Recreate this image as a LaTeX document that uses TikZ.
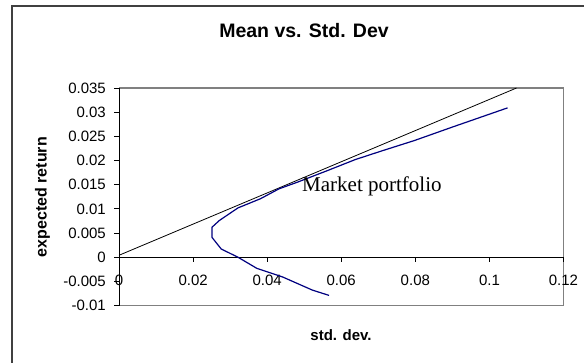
\documentclass[tikz,border=0pt]{standalone}
\usepackage{fontspec}
\setmainfont{Liberation Sans}
\newfontfamily\labelserif{Liberation Serif}
\usetikzlibrary{positioning}

\begin{document}
\begin{tikzpicture}[
  x=1pt, y=1pt,
  frame/.style={draw=black!75, line width=1.6pt},
  plotborder/.style={draw=black!50, line width=1.2pt},
  axis/.style={draw=black, line width=0.9pt},
  ticklab/.style={font=\fontsize{15}{15}\selectfont, inner sep=0pt},
  axtitle/.style={font=\fontsize{15}{15}\selectfont\bfseries, inner sep=0pt},
  cml/.style={draw=black, line width=0.8pt},
  frontier/.style={draw=blue!50!black, line width=1.2pt, line join=round}
]
\useasboundingbox (0,0) rectangle (584,362);
\fill[white] (0,0) rectangle (584,362);
\begin{scope}
\clip (0,0) rectangle (584,362);
\draw[frame] (11.7,-20) rectangle (620,355.7);
\end{scope}

\node[font=\fontsize{19.5}{20}\selectfont\bfseries, anchor=base, inner sep=0pt] (title) at (304,324) {Mean vs. Std. Dev};
\node[axtitle, font=\fontsize{16}{16}\selectfont\bfseries, rotate=90] (ylab) at (42.5,165) {expected return};
\node[axtitle, anchor=base] (xlab) at (341,22) {std. dev.};

% plot area, data coordinates
\begin{scope}[shift={(119,104.8)}, x=3704.2pt, y=4833pt]
\draw[plotborder] (0,0.035) -- (0.12,0.035) -- (0.12,-0.01) -- (0,-0.01);
\draw[axis] (0,-0.01) -- (0,0.035);
\draw[axis] (0,0) -- (0.12,0);
\foreach \v [count=\i] in {-0.01,-0.005,0,0.005,0.01,0.015,0.02,0.025,0.03,0.035} {
  \draw[axis] (0,\v) -- ++(-5pt,0);
  \node[ticklab, anchor=east] (ytick\i) at ([xshift=-13pt]0,\v) {\v};
}
\foreach \v [count=\i] in {0,0.02,0.04,0.06,0.08,0.1,0.12} {
  \draw[axis] (\v,0) -- ++(0,-5pt);
  \node[ticklab] (xtick\i) at ([yshift=-22.8pt]\v,0) {\v};
}
\draw[cml] (0,0.0004) -- (0.1073,0.035);
\draw[frontier] plot coordinates {(0.0567,-0.0079) (0.0522,-0.0068) (0.0442,-0.0041)
  (0.0372,-0.0023) (0.0321,0) (0.0276,0.0017) (0.0251,0.0041) (0.0251,0.0062)
  (0.0271,0.0076) (0.0321,0.0102) (0.0382,0.0121) (0.0432,0.01415) (0.0482,0.01553)
  (0.0562,0.0179) (0.0638,0.0202) (0.0708,0.02195) (0.0798,0.02416) (0.0899,0.0269)
  (0.1049,0.0309)};
\end{scope}

\node[font=\labelserif\fontsize{21}{21}\selectfont, anchor=base west, inner sep=0pt] (market) at (302,170) {Market portfolio};
\end{tikzpicture}
\end{document}
